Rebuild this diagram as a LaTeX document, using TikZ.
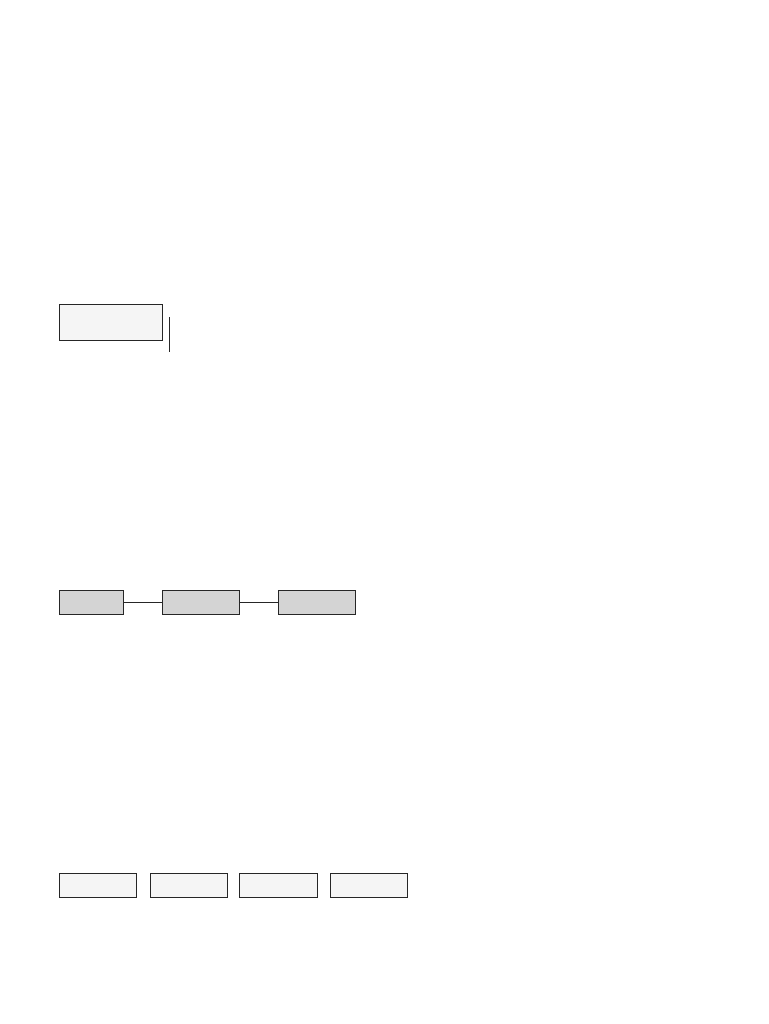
\documentclass[tikz,border=0pt]{standalone}
\usetikzlibrary{shadows}
\begin{document}
\begin{tikzpicture}[x=1pt,y=-1pt,
  boxshadow/.style={general shadow={shadow xshift=0.9pt,shadow yshift=-0.9pt,fill=black!90}},
  lightbox/.style={draw=black!85,line width=1pt,fill=black!4,minimum width=#1,minimum height=24pt,inner sep=0pt,anchor=north west,boxshadow},
  greybox/.style={draw=black!85,line width=1pt,fill=black!17,minimum width=#1,minimum height=24pt,inner sep=0pt,anchor=north west,boxshadow},
  conn/.style={draw=black!85,line width=1pt}]
\useasboundingbox[fill=white] (0,0) rectangle (768,1024);
% top box
\node[lightbox=103pt,minimum height=36pt] (t) at (59,304) {};
\coordinate (va) at (169,317);
\coordinate (vb) at (169,352);
\draw[conn] (va) -- (vb);
% row 2
\node[greybox=64pt] (a) at (59,590) {};
\node[greybox=77pt] (b) at (162,590) {};
\node[greybox=77pt] (c) at (278,590) {};
\draw[conn] (a.east) -- (b.west);
\draw[conn] (b.east) -- (c.west);
% row 3
\node[lightbox=77pt] (d) at (59,873) {};
\node[lightbox=77pt] (e) at (150,873) {};
\node[lightbox=78pt] (f) at (239,873) {};
\node[lightbox=77pt] (g) at (330,873) {};
\end{tikzpicture}
\end{document}
